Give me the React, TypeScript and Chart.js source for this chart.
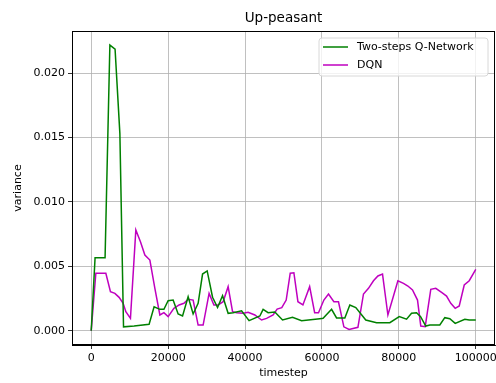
import React, { useEffect, useRef } from "react";
import { Chart, registerables } from "chart.js";

Chart.register(...registerables);

const twoStepX = [0, 1000, 3600, 4850, 6200, 7450, 8400, 11150, 15050, 16350, 17850, 18900, 20000, 21300, 22600, 23750, 25200, 26500, 27800, 28950, 30150, 31550, 32850, 34150, 35600, 36900, 39100, 41050, 43850, 44700, 46000, 47750, 49750, 52350, 54700, 59450, 60300, 62500, 63800, 65950, 67250, 68800, 71400, 74200, 77650, 80100, 82000, 83300, 84600, 85650, 87000, 88050, 90650, 91950, 93250, 94650, 97150, 98300, 100000];
const twoStepY = [0, 0.00567, 0.00567, 0.02218, 0.02187, 0.0153, 0.0003, 0.00036, 0.0005, 0.00186, 0.00166, 0.00166, 0.00233, 0.00238, 0.0013, 0.00114, 0.00264, 0.0013, 0.00213, 0.0044, 0.00464, 0.0026, 0.0018, 0.00272, 0.00135, 0.0014, 0.00155, 0.00078, 0.00114, 0.00166, 0.0014, 0.00145, 0.00083, 0.00104, 0.00078, 0.00093, 0.00096, 0.00166, 0.00099, 0.00099, 0.002, 0.00179, 0.00083, 0.00062, 0.00062, 0.00109, 0.00089, 0.00135, 0.0014, 0.00109, 0.00036, 0.00044, 0.00044, 0.00101, 0.00093, 0.00057, 0.00089, 0.00083, 0.00083];

const dqnX = [0, 1200, 3800, 5000, 6150, 7250, 8300, 9000, 10200, 11600, 12800, 13950, 15250, 16550, 17850, 18900, 20000, 21500, 22850, 24100, 25200, 26500, 27800, 29100, 30650, 31900, 33000, 34300, 35600, 36750, 37800, 39500, 40800, 42550, 44300, 45600, 47300, 48350, 49550, 50700, 51750, 52700, 53750, 55050, 56800, 58100, 59100, 60500, 61700, 63100, 64300, 65700, 67050, 69350, 70800, 72100, 73400, 74550, 75750, 77150, 78350, 79750, 81200, 82350, 83550, 84850, 85700, 86850, 88300, 89600, 91200, 92400, 93500, 94650, 95700, 97000, 98300, 100000];
const dqnY = [0, 0.00446, 0.00446, 0.00303, 0.0029, 0.00259, 0.00213, 0.00148, 0.00096, 0.00782, 0.00691, 0.00588, 0.00549, 0.00329, 0.00122, 0.0014, 0.00109, 0.00174, 0.002, 0.00213, 0.00244, 0.00238, 0.00044, 0.00044, 0.0029, 0.002, 0.002, 0.00225, 0.00342, 0.00148, 0.0014, 0.00135, 0.00143, 0.00122, 0.00083, 0.00096, 0.00122, 0.00168, 0.00179, 0.00238, 0.00446, 0.0045, 0.00225, 0.002, 0.00342, 0.0014, 0.0014, 0.00238, 0.00285, 0.00225, 0.00225, 0.0003, 0.0001, 0.00026, 0.00285, 0.00329, 0.00388, 0.00425, 0.0044, 0.00122, 0.00244, 0.00388, 0.00368, 0.00347, 0.00316, 0.00238, 0.00036, 0.00031, 0.00321, 0.00329, 0.00295, 0.00269, 0.00213, 0.00174, 0.00192, 0.00355, 0.00388, 0.00477];

const xTicks = [0, 20000, 40000, 60000, 80000, 100000];
const yTicks = [0, 0.005, 0.01, 0.015, 0.02];
const seriesNames = ["Two-steps Q-Network", "DQN"];
const seriesColors = ["#008000", "#bf00bf"];
const chartTitle = "Up-peasant";

const FONT = "'DejaVu Sans', sans-serif";

const framePlugin = {
  id: "frameLegend",
  afterDraw(chart: any) {
    const { ctx, chartArea } = chart;
    ctx.save();
    ctx.strokeStyle = "#000";
    ctx.lineWidth = 1;
    ctx.strokeRect(
      Math.round(chartArea.left) + 0.5,
      Math.round(chartArea.top) + 0.5,
      Math.round(chartArea.right - chartArea.left) - 1,
      Math.round(chartArea.bottom - chartArea.top) - 1
    );
    // title
    ctx.fillStyle = "#000";
    ctx.font = "13.5px " + FONT;
    ctx.textAlign = "center";
    ctx.textBaseline = "middle";
    ctx.fillText(chartTitle, (chartArea.left + chartArea.right) / 2, 18);
    // legend
    const bx = 319, by = 38, bw = 169, bh = 38;
    ctx.fillStyle = "rgba(255,255,255,0.8)";
    ctx.strokeStyle = "#d8d8d8";
    ctx.lineWidth = 1;
    ctx.beginPath();
    const r = 3;
    ctx.moveTo(bx + r, by);
    ctx.lineTo(bx + bw - r, by);
    ctx.arcTo(bx + bw, by, bx + bw, by + r, r);
    ctx.lineTo(bx + bw, by + bh - r);
    ctx.arcTo(bx + bw, by + bh, bx + bw - r, by + bh, r);
    ctx.lineTo(bx + r, by + bh);
    ctx.arcTo(bx, by + bh, bx, by + bh - r, r);
    ctx.lineTo(bx, by + r);
    ctx.arcTo(bx, by, bx + r, by, r);
    ctx.closePath();
    ctx.fill();
    ctx.stroke();
    ctx.font = "11px " + FONT;
    ctx.textBaseline = "middle";
    ctx.textAlign = "left";
    seriesNames.forEach((name, i) => {
      const y = 47 + i * 18;
      ctx.strokeStyle = seriesColors[i];
      ctx.lineWidth = 1.5;
      ctx.beginPath();
      ctx.moveTo(323, y);
      ctx.lineTo(348, y);
      ctx.stroke();
      ctx.fillStyle = "#000";
      ctx.fillText(name, 357, y);
    });
    ctx.restore();
  },
};

export default function App() {
  const ref = useRef<HTMLCanvasElement>(null);
  useEffect(() => {
    if (!ref.current) return;
    const chart = new Chart(ref.current, {
      type: "line",
      data: {
        datasets: [
          {
            label: seriesNames[0],
            data: twoStepX.map((x, i) => ({ x, y: twoStepY[i] })),
            borderColor: seriesColors[0],
            borderWidth: 1.5,
            pointRadius: 0,
            tension: 0,
            fill: false,
          },
          {
            label: seriesNames[1],
            data: dqnX.map((x, i) => ({ x, y: dqnY[i] })),
            borderColor: seriesColors[1],
            borderWidth: 1.5,
            pointRadius: 0,
            tension: 0,
            fill: false,
          },
        ],
      },
      options: {
        animation: false,
        responsive: false,
        maintainAspectRatio: false,
        layout: { padding: { top: 31, right: 1, left: 0, bottom: 0 } },
        plugins: {
          legend: { display: false },
          tooltip: { enabled: false },
          title: { display: false },
        },
        scales: {
          x: {
            type: "linear",
            min: -5000,
            max: 105000,
            afterBuildTicks: (axis: any) => {
              axis.ticks = xTicks.map((v) => ({ value: v }));
            },
            afterFit: (axis: any) => {
              axis.height = 38;
              axis.paddingRight = 0;
              axis.paddingLeft = 0;
            },
            ticks: {
              color: "#000",
              font: { family: FONT, size: 11 },
              padding: 3,
              maxRotation: 0,
              autoSkip: false,
              callback: (v: any) => String(v),
            },
            grid: {
              color: "#b0b0b0",
              lineWidth: 0.8,
              drawTicks: true,
              tickLength: 4,
              tickColor: "#000",
            },
            border: { color: "#000", width: 1 },
            title: {
              display: true,
              text: "timestep",
              color: "#000",
              font: { family: FONT, size: 11 },
              padding: { top: 0, bottom: 3.4 },
            },
          },
          y: {
            type: "linear",
            min: -0.00111,
            max: 0.02327,
            afterBuildTicks: (axis: any) => {
              axis.ticks = yTicks.map((v) => ({ value: v }));
            },
            afterFit: (axis: any) => {
              axis.width = 72;
              axis.paddingTop = 0;
              axis.paddingBottom = 0;
            },
            ticks: {
              color: "#000",
              font: { family: FONT, size: 11 },
              padding: 3,
              autoSkip: false,
              callback: (v: any) => Number(v).toFixed(3),
            },
            grid: {
              color: "#b0b0b0",
              lineWidth: 0.8,
              drawTicks: true,
              tickLength: 4,
              tickColor: "#000",
            },
            border: { color: "#000", width: 1 },
            title: {
              display: true,
              text: "variance",
              color: "#000",
              font: { family: FONT, size: 11 },
              padding: { top: 11.4, bottom: 0 },
            },
          },
        },
      },
      plugins: [framePlugin],
    });
    return () => chart.destroy();
  }, []);
  return (
    <div style={{ position: "fixed", left: 0, top: 0, width: 496, height: 383, background: "#fff" }}>
      <canvas ref={ref} width={496} height={383} style={{ width: 496, height: 383, display: "block" }} />
    </div>
  );
}
